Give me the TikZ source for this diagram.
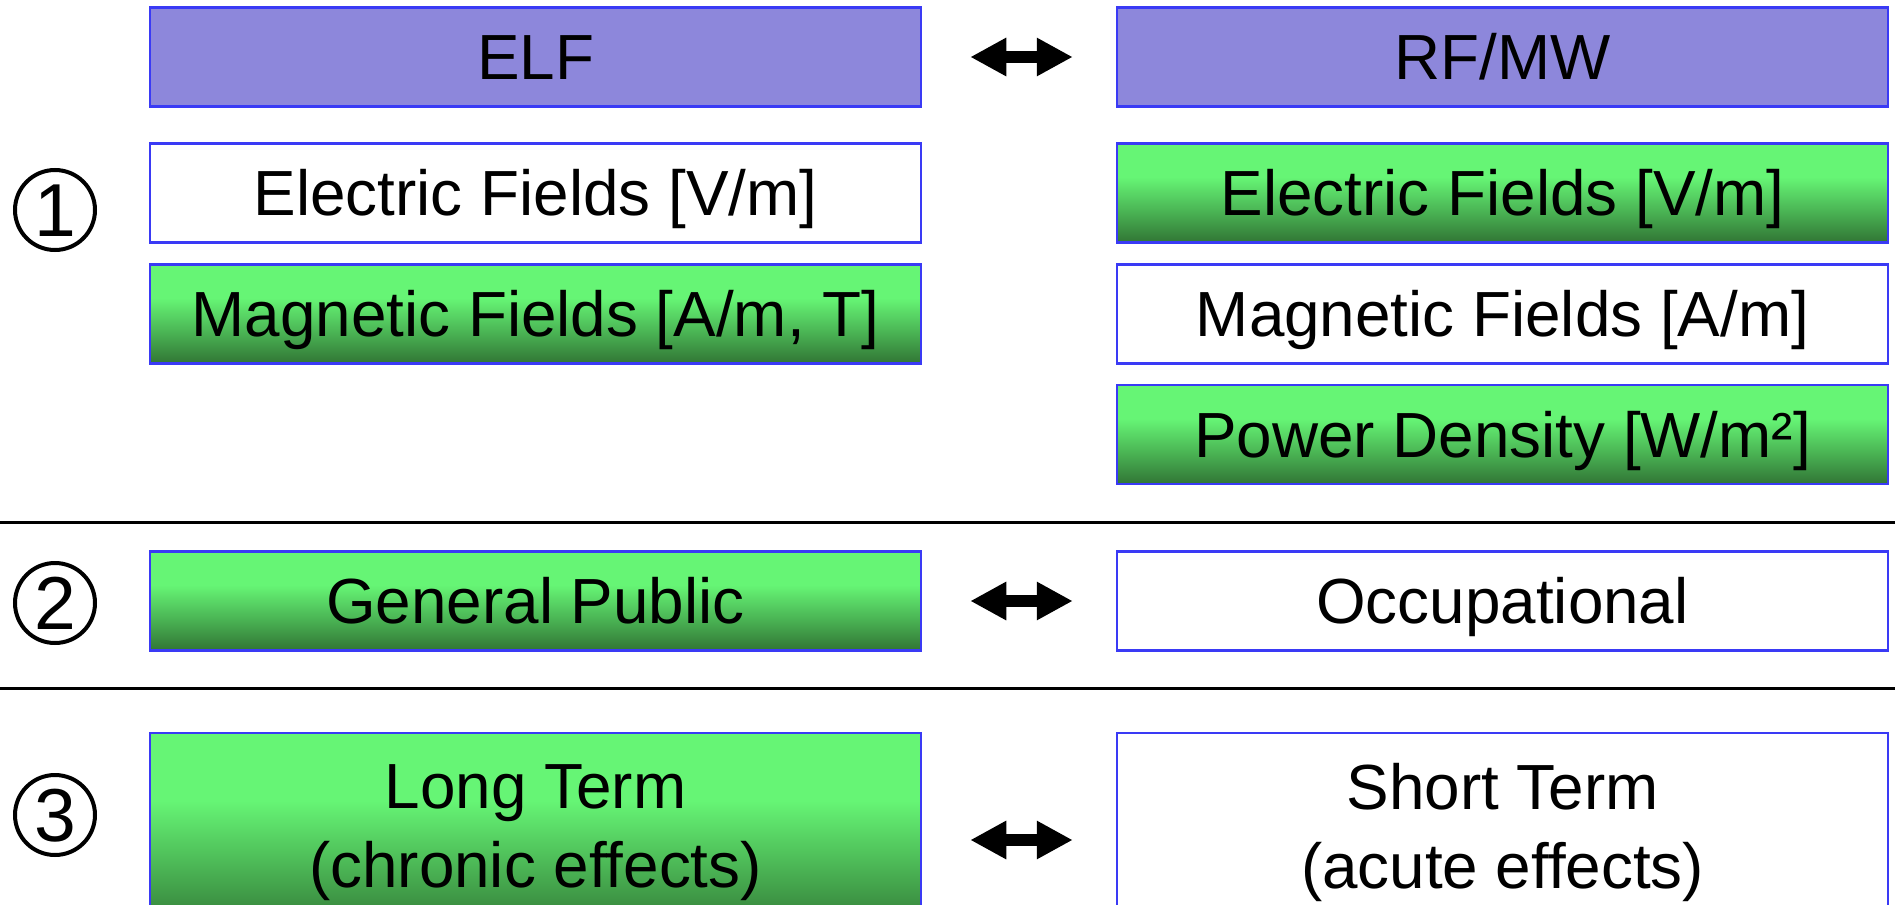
\documentclass[tikz,border=0pt]{standalone}
\usepackage{fontspec}
\setmainfont{Liberation Sans}
\usetikzlibrary{arrows.meta}
\definecolor{boxblue}{HTML}{3A3AF5}
\definecolor{headfill}{HTML}{8D87DB}
\definecolor{greentop}{HTML}{66F575}
\definecolor{greenmid}{HTML}{4CB856}
\definecolor{greenbot}{HTML}{317535}
\pgfdeclareverticalshading{greenfade}{100bp}{color(0bp)=(greenbot); color(25bp)=(greenbot); color(42bp)=(greenmid); color(58bp)=(greentop); color(100bp)=(greentop)}
\tikzset{
    cell/.style={draw=boxblue, line width=0.05cm, minimum width=15.42cm, minimum height=1.98cm,
        inner sep=0pt, align=center, font=\fontsize{36.3}{45}\selectfont,
        text height=26pt, text depth=0pt},
    head/.style={cell, fill=headfill},
    blank/.style={cell, fill=white},
    marked/.style={cell, shading=greenfade},
    tall/.style={minimum height=3.98cm, text height=, text depth=},
    num/.style={circle, draw, line width=0.08cm, minimum size=1.6cm, inner sep=0pt,
        font=\fontsize{42.7}{42.7}\selectfont, text height=30.6pt, text depth=0pt},
    versus/.style={line width=0.24cm, {Triangle[length=0.72cm,width=0.72cm]}-{Triangle[length=0.72cm,width=0.72cm]},
        shorten <=0.96cm, shorten >=0.86cm},
    sep/.style={line width=0.06cm}
}
\begin{document}
\begin{tikzpicture}
        \useasboundingbox (0,0) rectangle (37.9,-18.1);
        % Intestazioni
        \node[head] (elf) at (10.71,-1.14) {ELF};
        \node[head] (rfmw) at (30.05,-1.14) {RF/MW};
        \draw[versus] (elf) -- (rfmw);
        % Grandezze
        \node[blank] (elfe) at (10.71,-3.86) {Electric Fields [V/m]};
        \node[marked] (elfh) at (10.71,-6.28) {Magnetic Fields [A/m, T]};
        \node[marked] (rfe) at (30.05,-3.86) {Electric Fields [V/m]};
        \node[blank] (rfh) at (30.05,-6.28) {Magnetic Fields [A/m]};
        \node[marked] (rfs) at (30.05,-8.69) {Power Density [W/m²]};
        \node[num] (one) at (1.1,-4.2) {1};
        \draw[sep] (0,-10.44) -- (37.9,-10.44);
        % Persone
        \node[marked] (public) at (10.71,-12.02) {General Public};
        \node[blank] (work) at (30.05,-12.02) {Occupational};
        \draw[versus] (public) -- (work);
        \node[num] (two) at (1.1,-12.06) {2};
        \draw[sep] (0,-13.76) -- (37.9,-13.76);
        % Durata
        \node[marked, tall] (long) at (10.71,-16.65) {Long Term\\(chronic effects)};
        \node[blank, tall] (short) at (30.05,-16.65) {Short Term\\(acute effects)};
        \draw[versus] ([yshift=-0.15cm]long.east) -- ([yshift=-0.15cm]short.west);
        \node[num] (three) at (1.1,-16.3) {3};
\end{tikzpicture}
\end{document}
